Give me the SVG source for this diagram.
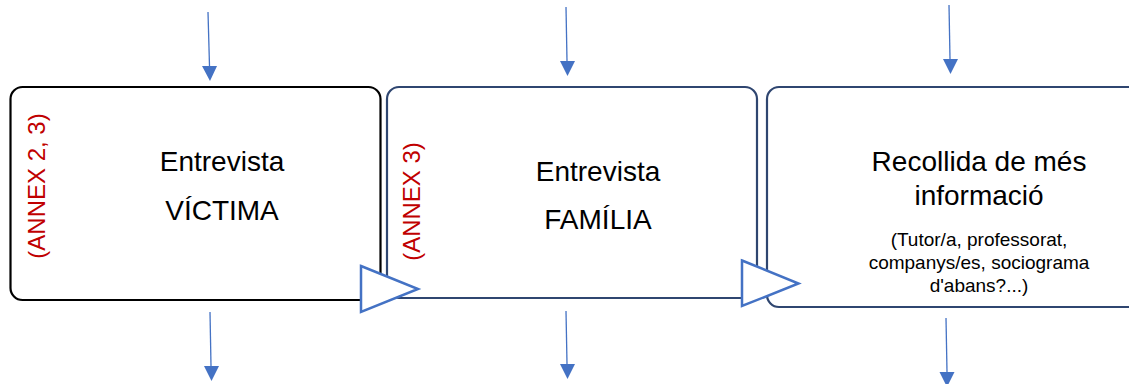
<svg xmlns="http://www.w3.org/2000/svg" width="1129" height="384" viewBox="0 0 1129 384">
<defs>
<style>
.box{fill:#fff;stroke-width:2.2}
.t{font-family:"Liberation Sans",Arial,sans-serif;fill:#000;text-anchor:middle}
.big{font-size:28px}
.small{font-size:19px}
.red{font-family:"Liberation Sans",Arial,sans-serif;fill:#C00000;font-size:24px;text-anchor:middle}
.arr{stroke:#4472C4;stroke-width:1.3;fill:none}
.head{fill:#4472C4}
.tri{fill:#fff;stroke:#4472C4;stroke-width:2.5;stroke-linejoin:miter}
</style>
</defs>
<g id="node-victima">
<rect class="box" x="10.5" y="87" width="370" height="213" rx="12" stroke="#000"/>
<text class="red" transform="translate(45,186) rotate(-90)">(ANNEX 2, 3)</text>
<text class="t big" x="222" y="171">Entrevista</text>
<text class="t big" x="222" y="220">VÍCTIMA</text>
</g>
<g id="node-familia">
<rect class="box" x="387" y="87" width="370" height="211" rx="12" stroke="#2F4670"/>
<text class="red" transform="translate(420,201.5) rotate(-90)">(ANNEX 3)</text>
<text class="t big" x="598" y="181">Entrevista</text>
<text class="t big" x="598" y="229">FAMÍLIA</text>
</g>
<g id="node-informacio">
<rect class="box" x="767" y="87" width="380" height="220" rx="12" stroke="#2F4670"/>
<text class="t big" x="979" y="171">Recollida de més</text>
<text class="t big" x="979" y="205">informació</text>
<text class="t small" x="979" y="246">(Tutor/a, professorat,</text>
<text class="t small" x="979" y="269">companys/es, sociograma</text>
<text class="t small" x="979" y="292">d'abans?...)</text>
</g>
<g id="connectors">
<line class="arr" x1="208" y1="12" x2="209.5" y2="66"/>
<path class="head" d="M202,66 L217,66 L210,81 Z"/>
<line class="arr" x1="210" y1="312" x2="211" y2="366"/>
<path class="head" d="M204,366 L219,366 L211.5,381 Z"/>
<line class="arr" x1="566" y1="7" x2="567" y2="61"/>
<path class="head" d="M560,61 L575,61 L567.5,76 Z"/>
<line class="arr" x1="566" y1="311" x2="567" y2="364"/>
<path class="head" d="M560,364 L575,364 L567.5,379 Z"/>
<line class="arr" x1="949" y1="5" x2="950" y2="59"/>
<path class="head" d="M943,59 L958,59 L950.5,74 Z"/>
<line class="arr" x1="946" y1="318" x2="947" y2="372"/>
<path class="head" d="M939.5,372 L954.5,372 L947,387 Z"/>
<path class="tri" d="M361,266 L418,289 L361,312 Z"/>
<path class="tri" d="M742,260.5 L798.5,283.5 L742,306 Z"/>
</g>
</svg>
